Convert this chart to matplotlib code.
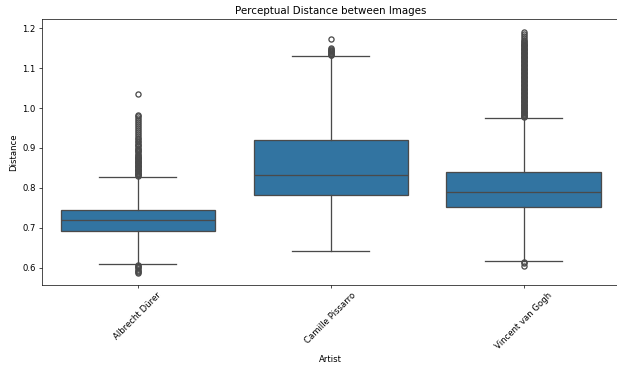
import matplotlib
matplotlib.use('Agg')
import matplotlib.pyplot as plt

# Dados
artists = ['Albrecht Dürer', 'Camille Pissarro', 'Vincent van Gogh']
q1 = [0.692, 0.781, 0.751]
median = [0.720, 0.833, 0.790]
q3 = [0.745, 0.921, 0.841]
whisker_low = [0.610, 0.642, 0.617]
whisker_high = [0.828, 1.130, 0.975]

fliers_durer = [0.586, 0.589, 0.592, 0.595, 0.598, 0.601, 0.604, 0.607,
                0.830, 0.832, 0.834, 0.836, 0.838, 0.840, 0.842, 0.844, 0.846,
                0.848, 0.850, 0.852, 0.854, 0.856, 0.858, 0.860, 0.862, 0.864,
                0.866, 0.868, 0.870, 0.872, 0.874, 0.876, 0.878, 0.880, 0.883,
                0.886, 0.889, 0.892, 0.895, 0.898, 0.901, 0.904, 0.907, 0.910,
                0.914, 0.918, 0.922, 0.926, 0.930, 0.935, 0.940, 0.945, 0.950,
                0.955, 0.960, 0.965, 0.970, 0.975, 0.979, 0.982, 1.035]
fliers_pissarro = [1.132, 1.134, 1.136, 1.138, 1.140, 1.142, 1.144, 1.146,
                   1.148, 1.150, 1.172]
fliers_vangogh = [0.604, 0.611, 0.614,
                  0.977, 0.979, 0.981, 0.983, 0.985, 0.987, 0.989, 0.991, 0.993,
                  0.995, 0.997, 0.999, 1.001, 1.003, 1.005, 1.007, 1.009, 1.011,
                  1.013, 1.015, 1.017, 1.019, 1.021, 1.023, 1.025, 1.027, 1.029,
                  1.031, 1.033, 1.035, 1.037, 1.039, 1.041, 1.043, 1.045, 1.047,
                  1.049, 1.051, 1.053, 1.055, 1.057, 1.059, 1.061, 1.063, 1.065,
                  1.067, 1.069, 1.071, 1.073, 1.075, 1.077, 1.079, 1.081, 1.083,
                  1.085, 1.087, 1.089, 1.091, 1.093, 1.095, 1.097, 1.099, 1.101,
                  1.103, 1.105, 1.107, 1.109, 1.111, 1.113, 1.115, 1.117, 1.119,
                  1.121, 1.123, 1.125, 1.127, 1.129, 1.131, 1.133, 1.135, 1.137,
                  1.139, 1.141, 1.143, 1.145, 1.147, 1.149, 1.151, 1.153, 1.155,
                  1.157, 1.159, 1.161, 1.163, 1.165, 1.168, 1.171, 1.175, 1.180,
                  1.185, 1.191]
fliers = [fliers_durer, fliers_pissarro, fliers_vangogh]

stats = []
for i, name in enumerate(artists):
    stats.append({
        'label': name,
        'q1': q1[i], 'med': median[i], 'q3': q3[i],
        'whislo': whisker_low[i], 'whishi': whisker_high[i],
        'fliers': fliers[i],
    })

line_color = '#4a4a4a'
fig = plt.figure(figsize=(10, 366 / 61.7), dpi=61.7)
ax = fig.add_axes([41.5 / 617, 81 / 366, 578.5 / 617, 266 / 366])
ax.bxp(stats, positions=[0, 1, 2], widths=0.8, patch_artist=True,
       boxprops=dict(facecolor='#3274a1', edgecolor=line_color, linewidth=1.5),
       medianprops=dict(color=line_color, linewidth=1.5),
       whiskerprops=dict(color=line_color, linewidth=1.5),
       capprops=dict(color=line_color, linewidth=1.5),
       capwidths=0.4,
       flierprops=dict(marker='o', markerfacecolor='none', markeredgecolor=line_color,
                       markersize=6, markeredgewidth=1.5))

ax.set_xlim(-0.5, 2.5)
ax.set_ylim(0.5566, 1.2233)
ax.set_yticks([0.6, 0.7, 0.8, 0.9, 1.0, 1.1, 1.2])
plt.xticks(rotation=45)
ax.set_title('Perceptual Distance between Images')
ax.set_xlabel('Artist')
ax.set_ylabel('Distance')
fig.savefig('out.png', dpi=61.7)
